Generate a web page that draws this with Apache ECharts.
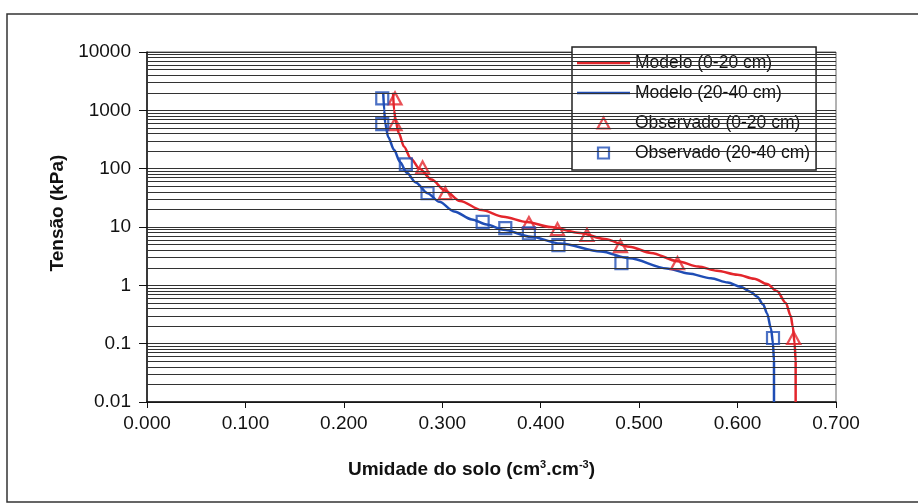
<!DOCTYPE html>
<html>
<head>
<meta charset="utf-8">
<script src="https://cdn.jsdelivr.net/npm/echarts@6/dist/echarts.min.js"></script>
<style>
  html, body { margin: 0; padding: 0; background: #fff; }
</style>
</head>
<body>
<div id="chart" style="width: 918px; height: 504px;"></div>
<script>
  // eixo x: umidade (cm3/cm3), eixo y: tensão (kPa), escala log
  const xTicks = [0, 0.1, 0.2, 0.3, 0.4, 0.5, 0.6, 0.7];
  const yTickLabels = ['0.01', '0.1', '1', '10', '100', '1000', '10000'];
  const decades = [0.01, 0.1, 1, 10, 100, 1000];
  const minorSteps = [2, 3, 4, 5, 6, 7, 8, 9];

  const seriesNames = ['Modelo (0-20 cm)', 'Modelo (20-40 cm)', 'Observado (0-20 cm)', 'Observado (20-40 cm)'];

  // curvas do modelo [umidade, tensão]
  const modelo0_20 = [
    [0.250, 2000], [0.251, 1000], [0.253, 600], [0.256, 400], [0.261, 240],
    [0.268, 150], [0.277, 100], [0.289, 65], [0.303, 42], [0.318, 28],
    [0.340, 19.5], [0.362, 15], [0.386, 12.2], [0.410, 10], [0.440, 7.9],
    [0.465, 6.2], [0.490, 4.6], [0.512, 3.6], [0.539, 2.6], [0.560, 2.1],
    [0.579, 1.78], [0.600, 1.52], [0.617, 1.3], [0.630, 1.05], [0.640, 0.8],
    [0.649, 0.5], [0.654, 0.3], [0.656, 0.2], [0.658, 0.1], [0.659, 0.05],
    [0.659, 0.01]
  ];
  const modelo20_40 = [
    [0.240, 2000], [0.241, 1000], [0.242, 600], [0.245, 350], [0.251, 210],
    [0.257, 130], [0.264, 85], [0.273, 58], [0.285, 38], [0.297, 27],
    [0.312, 18.5], [0.330, 13.5], [0.345, 11], [0.362, 9.0], [0.390, 6.8],
    [0.420, 5.2], [0.461, 3.8], [0.490, 2.9], [0.528, 1.95], [0.550, 1.6],
    [0.573, 1.32], [0.590, 1.12], [0.603, 0.95], [0.613, 0.78], [0.620, 0.64],
    [0.626, 0.47], [0.630, 0.33], [0.634, 0.18], [0.636, 0.1], [0.637, 0.05],
    [0.637, 0.01]
  ];

  // pontos observados
  const obs0_20 = [
    [0.252, 1600], [0.252, 580], [0.280, 105], [0.303, 38], [0.388, 11.7],
    [0.417, 9.2], [0.447, 7.3], [0.481, 4.7], [0.539, 2.4], [0.657, 0.125]
  ];
  const obs20_40 = [
    [0.239, 1600], [0.239, 580], [0.263, 118], [0.285, 38], [0.341, 12.2],
    [0.364, 9.6], [0.388, 7.8], [0.418, 4.9], [0.482, 2.4], [0.636, 0.125]
  ];

  const minorGrid = [];
  decades.forEach(d => minorSteps.forEach(m => minorGrid.push({ yAxis: m * d })));

  const font = '"Liberation Sans", Arial, sans-serif';
  const red = '#e3262c';
  const blue = '#1f4db5';
  const lineIcon = 'path://M0,0L53,0L53,2.5L0,2.5Z';
  const triIcon = 'path://M6,0L12,11L0,11Z';
  const sqIcon = 'path://M0,0L10,0L10,10L0,10Z';

  let chart = echarts.init(document.getElementById('chart'));

  let option = {
    backgroundColor: '#fff',
    animation: false,
    textStyle: { fontFamily: font, color: '#111' },
    graphic: [{
      type: 'rect',
      shape: { x: 7, y: 14, width: 940, height: 488 },
      style: { fill: 'none', stroke: '#333', lineWidth: 1.5 },
      silent: true,
      z: -1
    }],
    grid: {
      left: 147, right: 82, top: 52, bottom: 102,
      show: true, borderColor: '#666', borderWidth: 1, backgroundColor: '#fff'
    },
    legend: {
      data: [
        { name: seriesNames[0], icon: lineIcon },
        { name: seriesNames[1], icon: lineIcon },
        { name: seriesNames[2], icon: triIcon, itemStyle: { borderWidth: 2.2 } },
        { name: seriesNames[3], icon: sqIcon, itemStyle: { borderWidth: 2.2 } }
      ],
      orient: 'vertical',
      left: 572, top: 47,
      itemWidth: 53, itemHeight: 11, itemGap: 12,
      padding: [7, 6, 8, 5],
      backgroundColor: '#fff',
      borderColor: '#222', borderWidth: 1.5,
      textStyle: { fontFamily: font, fontSize: 17.5, color: '#111' }
    },
    xAxis: {
      type: 'value',
      min: 0, max: 0.7, interval: 0.1,
      name: 'Umidade do solo (cm{sup|3}.cm{sup|-3})',
      nameLocation: 'middle', nameGap: 57,
      nameTextStyle: {
        fontFamily: font, fontSize: 19, fontWeight: 'bold', color: '#111',
        padding: [0, 40, 0, 0],
        rich: { sup: { fontSize: 11, fontWeight: 'bold', verticalAlign: 'top', padding: [0, 0, 10, 0] } }
      },
      axisLine: { lineStyle: { color: '#111', width: 1.5 } },
      axisTick: { show: true, inside: false, length: 6, lineStyle: { color: '#111' } },
      axisLabel: {
        fontFamily: font, fontSize: 19, color: '#111', margin: 12,
        formatter: v => xTicks.includes(Math.round(v * 10) / 10) ? v.toFixed(3) : ''
      },
      splitLine: { show: false }
    },
    yAxis: {
      type: 'log', logBase: 10,
      min: 0.01, max: 10000,
      name: 'Tensão (kPa)',
      nameLocation: 'middle', nameGap: 80, nameRotate: 90,
      nameTextStyle: {
        fontFamily: font, fontSize: 19, fontWeight: 'bold', color: '#111',
        padding: [0, 0, 0, 28]
      },
      axisLine: { show: true, lineStyle: { color: '#111', width: 1.5 } },
      axisTick: { show: true, inside: false, length: 8, lineStyle: { color: '#111' } },
      axisLabel: {
        fontFamily: font, fontSize: 19, color: '#111', margin: 16,
        formatter: v => {
          const s = String(Number(v.toPrecision(6)));
          return yTickLabels.includes(s) ? s : '';
        }
      },
      splitLine: { show: true, lineStyle: { color: '#333', width: 1.2 } }
    },
    series: [
      {
        name: 'grade',
        type: 'line',
        data: [],
        silent: true,
        z: 1,
        markLine: {
          silent: true,
          symbol: ['none', 'none'],
          label: { show: false },
          lineStyle: { color: '#333', width: 1.2, type: 'solid' },
          data: minorGrid
        }
      },
      {
        name: seriesNames[0],
        type: 'line',
        data: modelo0_20,
        symbol: 'none',
        smooth: 0.3, smoothMonotone: 'x',
        lineStyle: { color: red, width: 2.5 },
        itemStyle: { color: red },
        z: 3
      },
      {
        name: seriesNames[1],
        type: 'line',
        data: modelo20_40,
        symbol: 'none',
        smooth: 0.3, smoothMonotone: 'x',
        lineStyle: { color: blue, width: 2.5 },
        itemStyle: { color: blue },
        z: 3
      },
      {
        name: seriesNames[2],
        type: 'scatter',
        data: obs0_20,
        symbol: 'triangle',
        symbolSize: [13, 12],
        itemStyle: { color: 'rgba(255,255,255,0)', borderColor: red, borderWidth: 2.2 },
        z: 4
      },
      {
        name: seriesNames[3],
        type: 'scatter',
        data: obs20_40,
        symbol: 'rect',
        symbolSize: 12,
        itemStyle: { color: 'rgba(255,255,255,0)', borderColor: blue, borderWidth: 2.2 },
        z: 4
      }
    ]
  };

  chart.setOption(option);
</script>
</body>
</html>
